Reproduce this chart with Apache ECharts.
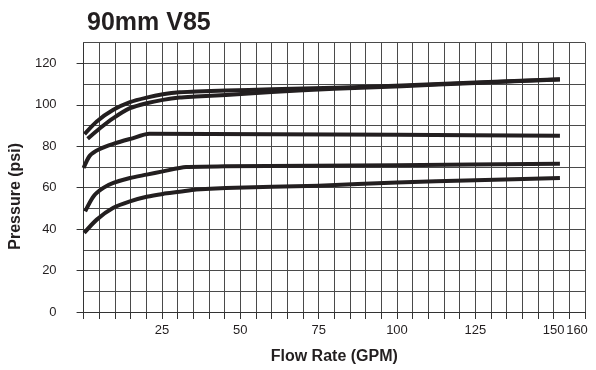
<!DOCTYPE html>
<html>
<head>
<meta charset="utf-8">
<script src="https://cdn.jsdelivr.net/npm/echarts@6/dist/echarts.min.js"></script>
<style>html,body{margin:0;padding:0;background:#fff;}#c{width:596px;height:370px;}</style>
</head>
<body>
<div id="c"></div>
<script>
// Flow (GPM) / Pressure (psi) pairs for each curve
var flowTopUpper = [0.3, 4.2, 9.5, 14.8, 20.1, 25.3, 30.6, 35.9, 45.4, 60, 80, 101.5, 125, 152];
var presTopUpper = [85.9, 92.0, 97.6, 101.3, 103.5, 105.1, 106.1, 106.4, 106.9, 107.5, 108.3, 109.3, 110.8, 112.4];
var flowTopLower = [1.3, 5.3, 9.5, 14.8, 20.1, 25.3, 30.6, 35.9, 45.4, 60, 80, 101.5, 125, 152];
var presTopLower = [83.6, 88.8, 93.6, 98.4, 100.8, 102.4, 103.5, 104.0, 104.8, 106.2, 107.8, 109.0, 110.6, 112.2];
var flow85 = [0, 2, 5, 9.5, 15, 21, 60, 100, 152];
var pres85 = [69.5, 75.5, 78.6, 81.2, 83.6, 86.0, 85.8, 85.6, 85.1];
var flow70 = [0.5, 3.2, 6.3, 9.5, 14.8, 20.1, 25.3, 32.7, 45, 100, 152];
var pres70 = [48.6, 55.9, 59.9, 62.3, 64.7, 66.3, 67.9, 70.0, 70.3, 70.8, 71.6];
var flow60 = [0.2, 4.2, 9.5, 14.8, 20.1, 25.3, 30.6, 35.9, 45.4, 75, 100, 125, 152];
var pres60 = [38.2, 44.6, 50.3, 53.4, 55.6, 57.0, 58.0, 59.1, 59.9, 61.0, 62.5, 63.6, 64.7];

var xTickLabels = [25, 50, 75, 100, 125, 150];
var xEndLabel = [160];
var yTickLabels = [0, 20, 40, 60, 80, 100, 120];

function pairs(xs, ys) { return xs.map(function (x, i) { return [x, ys[i]]; }); }

var curves = [
  pairs(flowTopUpper, presTopUpper),
  pairs(flowTopLower, presTopLower),
  pairs(flow85, pres85),
  pairs(flow70, pres70),
  pairs(flow60, pres60)
];

var ink = '#231f20';
var gridColor = '#4a4a4a';
var font = 'Liberation Sans, Arial, sans-serif';
var chart = echarts.init(document.getElementById('c'), null, { renderer: 'canvas' });
chart.setOption({
  animation: false,
  backgroundColor: '#ffffff',
  title: {
    text: '90mm V85',
    left: 82, top: 6,
    textStyle: { fontFamily: font, fontSize: 25, fontWeight: 'bold', color: ink }
  },
  grid: { left: 79.3, right: 11, top: 42.7, bottom: 57.3, containLabel: false },
  xAxis: [{
    type: 'value', min: 0, max: 160, interval: 5, position: 'bottom',
    name: 'Flow Rate (GPM)', nameLocation: 'middle', nameGap: 37,
    nameTextStyle: { fontFamily: font, fontSize: 16, fontWeight: 'bold', color: ink },
    axisLine: { show: true, lineStyle: { color: '#333', width: 1 } },
    axisTick: { show: true, length: 7, lineStyle: { color: '#333', width: 1 } },
    axisLabel: {
      customValues: xTickLabels, margin: 12,
      fontFamily: font, fontSize: 13, color: ink
    },
    splitLine: { show: true, lineStyle: { color: gridColor, width: 1 } }
  }, {
    type: 'value', min: 0, max: 160, position: 'bottom',
    axisLine: { show: false },
    axisTick: { show: false },
    axisLabel: {
      customValues: xEndLabel, margin: 12, showMaxLabel: true, padding: [0, 16, 0, 0],
      fontFamily: font, fontSize: 13, color: ink
    },
    splitLine: { show: false }
  }],
  yAxis: [{
    type: 'value', min: 0, max: 130, interval: 10,
    name: 'Pressure (psi)', nameLocation: 'middle', nameGap: 55,
    nameTextStyle: { fontFamily: font, fontSize: 16, fontWeight: 'bold', color: ink, padding: [0, 38, 0, 0] },
    axisLine: { show: true, lineStyle: { color: '#333', width: 1 } },
    axisTick: { show: false },
    axisLabel: {
      customValues: yTickLabels, margin: 27,
      fontFamily: font, fontSize: 13, color: ink
    },
    splitLine: { show: true, lineStyle: { color: gridColor, width: 1 } }
  }, {
    type: 'value', min: 0, max: 130, position: 'left',
    axisLine: { show: false },
    axisTick: { show: true, length: 7, customValues: yTickLabels, lineStyle: { color: '#333', width: 1 } },
    axisLabel: { show: false },
    splitLine: { show: false }
  }],
  series: curves.map(function (d) {
    return {
      type: 'line', data: d, showSymbol: false, symbol: 'none', smooth: 0.25,
      lineStyle: { color: ink, width: 4, cap: 'butt', join: 'round' },
      z: 3
    };
  })
});
</script>
</body>
</html>
